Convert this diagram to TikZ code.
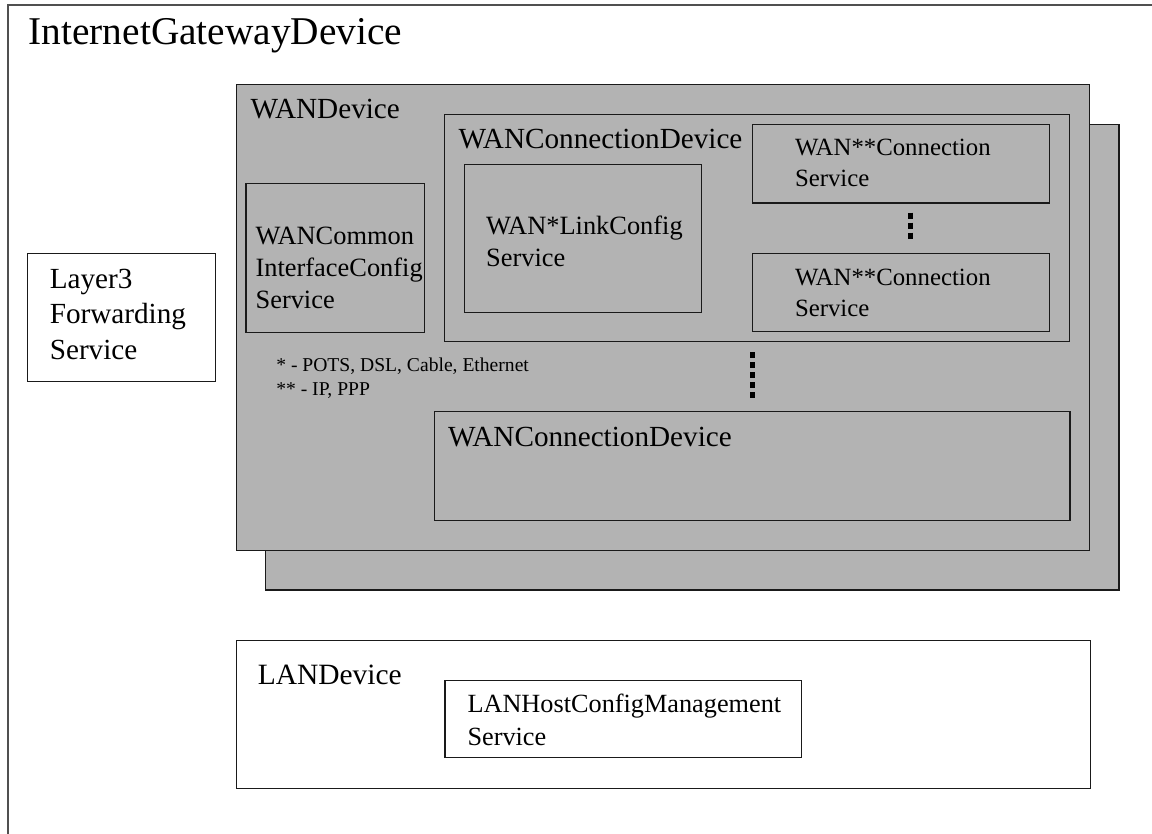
\documentclass[tikz,border=0pt]{standalone}
\usepackage{fontspec}
\setmainfont{Liberation Serif}
\usetikzlibrary{fit}
\definecolor{panel}{HTML}{B3B3B3}
\definecolor{edge}{HTML}{1A1A1A}
\definecolor{outeredge}{HTML}{505050}
\newcommand\fsTitle{\fontsize{29.5pt}{34pt}\selectfont}
\newcommand\fsHead{\fontsize{21.9pt}{26.5pt}\selectfont}
\newcommand\fsSvc{\fontsize{19.8pt}{24pt}\selectfont}
\newcommand\fsConn{\fontsize{18.6pt}{23.25pt}\selectfont}
\newcommand\fsLan{\fontsize{19.7pt}{25pt}\selectfont}
\newcommand\fsNote{\fontsize{14.7pt}{17.5pt}\selectfont}
\tikzset{
  graybox/.style={draw=edge, line width=0.85pt, fill=panel, inner sep=0pt},
  whitebox/.style={draw=edge, line width=0.85pt, fill=white, inner sep=0pt},
  lbl/.style={anchor=base west, inner sep=0pt, outer sep=0pt, align=left},
  ellipsis/.style={draw=black, line width=3.75pt, dash pattern=on 4.5pt off 3pt, line cap=butt}
}
\begin{document}
\begin{tikzpicture}[x=0.75pt, y=-0.75pt]
  \useasboundingbox (0,0) rectangle (1152,834);
  \fill[white] (0,0) rectangle (1152,834);
  % outer device frame (continues beyond the page)
  \node[draw=outeredge, line width=1.5pt, inner sep=0pt, fit={(7.7,5) (1170,850)}] (igd) {};
  \node[lbl, font=\fsTitle] (igdlbl) at (28.7,45) {InternetGatewayDevice};

  % Layer3 forwarding (multi-line labels: base = last line)
  \node[whitebox, fit={(27.6,253.3) (215.5,381.7)}] (l3) {};
  \node[lbl, font=\fontsize{21.9pt}{26.5pt}\selectfont] (l3lbl) at (49.8,359) {Layer3\\Forwarding\\Service};

  % WAN devices (stacked)
  \node[graybox, fit={(265.7,124.3) (1119,590)}] (wanback) {};
  \node[graybox, fit={(236.5,84.3) (1089.5,550.5)}] (wan) {};
  \node[lbl, font=\fsHead] (wanlbl) at (250.7,118.3) {WANDevice};

  \node[graybox, fit={(246,183.7) (424.4,332.3)}] (wcic) {};
  \node[lbl, font=\fsSvc] (wciclbl) at (255.6,308) {WANCommon\\InterfaceConfig\\Service};

  \node[graybox, fit={(444.5,114.5) (1069.6,341.7)}] (wcd1) {};
  \node[lbl, font=\fsHead] (wcd1lbl) at (458.6,148.3) {WANConnectionDevice};

  \node[graybox, fit={(464.4,164.2) (701.9,312.3)}] (link) {};
  \node[lbl, font=\fontsize{19.8pt}{24.5pt}\selectfont] (linklbl) at (486.2,266.7) {WAN*LinkConfig\\Service};

  \node[graybox, fit={(752.6,124.5) (1049.5,203)}] (conn1) {};
  \node[lbl, font=\fsConn] (conn1lbl) at (795,186.7) {WAN**Connection\\Service};
  \node[graybox, fit={(752.6,253.3) (1049.5,331.7)}] (conn2) {};
  \node[lbl, font=\fsConn] (conn2lbl) at (795,316.2) {WAN**Connection\\Service};

  \coordinate (d1a) at (910.5,212.7);
  \coordinate (d1b) at (910.5,238.7);
  \draw[ellipsis] (d1a) -- (d1b);

  \node[lbl, font=\fsNote] (notes) at (276.3,395) {* - POTS, DSL, Cable, Ethernet\\** - IP, PPP};

  \coordinate (d2a) at (752.5,352);
  \coordinate (d2b) at (752.5,398);
  \draw[ellipsis] (d2a) -- (d2b);

  \node[graybox, fit={(434.7,411.7) (1070,520.7)}] (wcd2) {};
  \node[lbl, font=\fsHead] (wcd2lbl) at (448,446.7) {WANConnectionDevice};

  % LAN device
  \node[whitebox, fit={(236.5,640.7) (1090.6,788.3)}] (lan) {};
  \node[lbl, font=\fontsize{22.1pt}{26pt}\selectfont] (lanlbl) at (257.8,684.3) {LANDevice};
  \node[whitebox, fit={(445,680.5) (801.7,757.5)}] (lhcm) {};
  \node[lbl, font=\fsLan] (lhcmlbl) at (467.5,745.5) {LANHostConfigManagement\\Service};
\end{tikzpicture}
\end{document}
